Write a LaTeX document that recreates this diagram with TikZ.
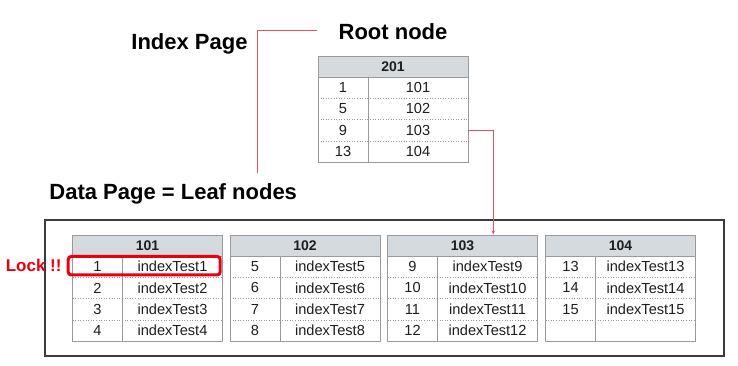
\documentclass[tikz,border=0pt]{standalone}
\usepackage{fontspec}
\setmainfont{Liberation Sans}
\usetikzlibrary{arrows.meta,calc}
\definecolor{hdrfill}{HTML}{D5DADF}
\definecolor{gridc}{HTML}{9A9A9A}
\definecolor{txt}{HTML}{1E1E1E}
\definecolor{linkred}{HTML}{E2545A}
\definecolor{lockred}{HTML}{E8000F}
\definecolor{framec}{HTML}{3C3C3C}
\tikzset{
  hdr/.style={draw=gridc, line width=0.7pt, fill=hdrfill, minimum width=150pt, minimum height=21pt,
    inner sep=0pt, outer sep=0pt, text=txt, font=\bfseries\fontsize{14}{16}\selectfont},
  keycell/.style={minimum width=50pt, minimum height=21.3pt, inner sep=0pt, outer sep=0pt,
    text=txt, font=\fontsize{14.6}{16}\selectfont},
  valcell/.style={minimum width=100pt, minimum height=21.3pt, inner sep=0pt, outer sep=0pt,
    text=txt, font=\fontsize{14.6}{16}\selectfont},
  title/.style={inner sep=0pt, text=black, font=\bfseries\fontsize{22}{24}\selectfont},
  grid/.style={gridc, line width=0.7pt},
  rowsep/.style={gridc, line width=0.6pt, dotted},
  link/.style={linkred, line width=0.9pt},
}
\newcommand\btable[5]{%
  \node[hdr,anchor=north west] (#1) at (#2,#3) {#4};
  \foreach \k/\v [count=\i] in {#5}{%
    \node[keycell,anchor=north west] (#1-k\i) at (#2,{#3+21+21.3*(\i-1)}) {\k};
    \node[valcell,anchor=west] (#1-v\i) at (#1-k\i.east) {\v};
  }
  \draw[grid] (#1-k1.north west) rectangle (#1-v4.south east);
  \draw[grid] (#1-k1.north east) -- (#1-k4.south east);
  \foreach \j in {1,2,3}{\draw[rowsep] (#1-k\j.south west) -- (#1-v\j.south east);}
}
\begin{document}
\begin{tikzpicture}[x=1pt,y=-1pt]
\useasboundingbox (0,0) rectangle (738,365);
% titles
\node[title,anchor=base] (rootlbl) at (393,39.3) {Root node};
\node[title,anchor=base] (idxlbl) at (189.5,49.3) {Index Page};
\node[title,anchor=base] (datalbl) at (173.2,199.3) {Data Page = Leaf nodes};
% bracket
\coordinate (b1) at (317,30);
\coordinate (b2) at (257.3,173);
\draw[link] (b1) -| (b2);
% root table
\btable{root}{318}{56}{201}{1/101,5/102,9/103,13/104}
% leaf frame
\node[draw=framec, line width=2pt, minimum width=679.8pt, minimum height=136pt, anchor=north west,
  inner sep=0pt, outer sep=0pt] (leafbox) at (44.5,220) {};
% leaf tables
\btable{p101}{72.5}{235}{101}{1/indexTest1,2/indexTest2,3/indexTest3,4/indexTest4}
\btable{p102}{230}{235}{102}{5/indexTest5,6/indexTest6,7/indexTest7,8/indexTest8}
\btable{p103}{387.5}{235}{103}{9/indexTest9,10/indexTest10,11/indexTest11,12/indexTest12}
\btable{p104}{545.5}{235}{104}{13/indexTest13,14/indexTest14,15/indexTest15,{}/{}}
% arrow
\coordinate (arrtip) at (493.3,234.5);
\draw[link, -{Stealth[length=4pt,width=3.5pt]}] (root-v3.east) -| (arrtip);
% lock
\node[draw=lockred, line width=3pt, rounded corners=3pt, minimum width=152pt, minimum height=18.5pt,
  inner sep=0pt] (lock) at (144.2,265.7) {};
\node[anchor=base east, inner sep=0pt, text=lockred, font=\bfseries\fontsize{17}{19}\selectfont]
  (locklbl) at (61.7,271.7) {Lock !!};
\end{tikzpicture}
\end{document}
